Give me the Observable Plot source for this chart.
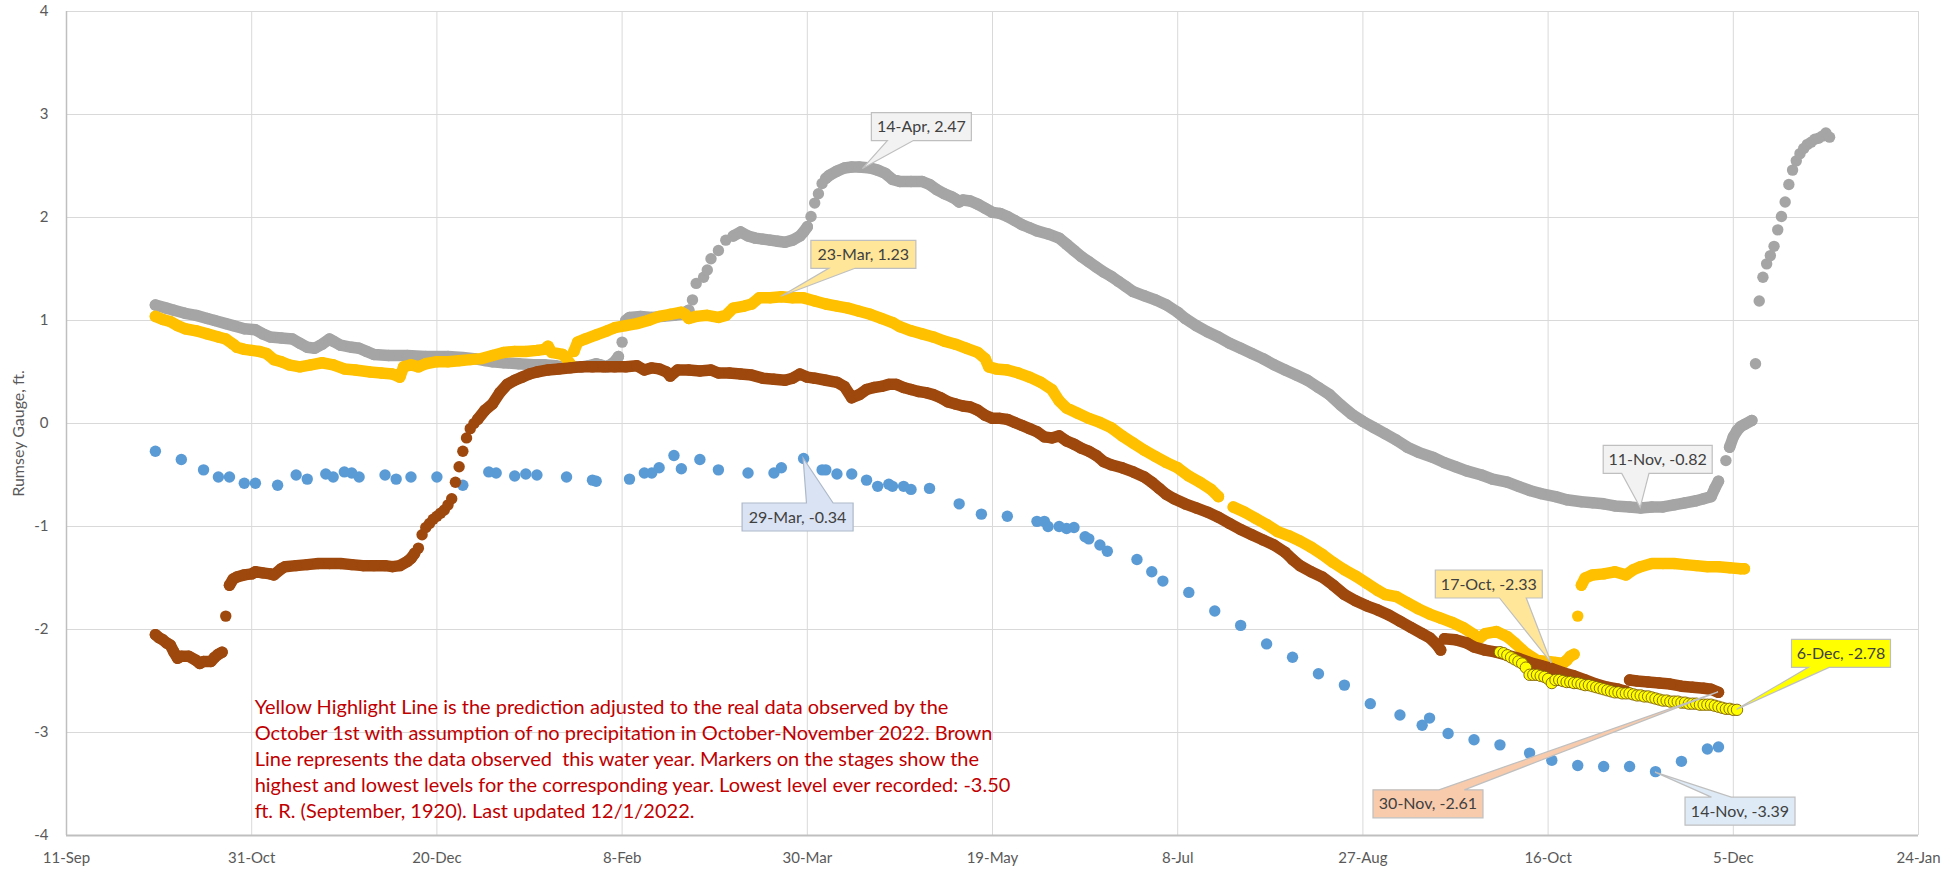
<!DOCTYPE html>
<html>
<head>
<meta charset="utf-8">
<script src="https://cdn.jsdelivr.net/npm/d3@7"></script>
<script src="https://cdn.jsdelivr.net/npm/@observablehq/plot@0.6"></script>
<style>
  html, body { margin: 0; padding: 0; background: #ffffff; }
  #chart { width: 1944px; height: 870px; }
</style>
</head>
<body>
<div id="chart"></div>
<script>
// ---------------- DATA ----------------
// x positions are day offsets from the axis start (11-Sep), y values are Rumsey Gauge ft.
const axisStart = "2021-09-11";
const axisEnd = "2023-01-24";
const xTickDates = ["2021-09-11","2021-10-31","2021-12-20","2022-02-08","2022-03-30","2022-05-19",
                    "2022-07-08","2022-08-27","2022-10-16","2022-12-05","2023-01-24"];
const yTickValues = [-4, -3, -2, -1, 0, 1, 2, 3, 4];
const yAxisTitle = "Rumsey Gauge, ft.";

// Grey year: dense daily trace (null = break) and separated daily readings
const grayTrace = [
  [24,1.15],[27,1.12],[29,1.10],[32,1.07],[35,1.05],[38,1.02],[40,1.00],[43,0.97],[45,0.95],[48,0.92],
  [51,0.91],[53,0.87],[55,0.84],[58,0.83],[61,0.82],[63,0.78],[65,0.74],[67,0.73],[69,0.77],[71,0.82],
  [72,0.80],[74,0.76],[77,0.74],[79,0.73],[81,0.70],[83,0.67],[87,0.66],[92,0.66],[97,0.65],[103,0.65],
  [107,0.64],[110,0.63],[113,0.61],[115,0.60],[118,0.59],[122,0.58],[126,0.57],[129,0.57],[132,0.56],
  [134,0.55],[137,0.55],[139,0.55],[141,0.56],[143,0.58],[144,0.57],[146,0.55],[148,0.60],[149,0.65],
  null,
  [151,1.00],[152,1.03],[155,1.04],[158,1.03],[161,1.04],[164,1.05],[166,1.06],[168,1.10],
  null,
  [180,1.82],[182,1.86],[184,1.82],[186,1.80],[188,1.79],[190,1.78],[192,1.77],[194,1.76],[196,1.78],
  [198,1.82],[199,1.86],[200,1.91],
  null,
  [205,2.38],[206,2.41],[208,2.45],[210,2.48],[212,2.49],[214,2.49],[217,2.48],[219,2.46],[221,2.43],
  [223,2.37],[225,2.35],[228,2.35],[231,2.35],[233,2.32],[235,2.27],[237,2.23],[239,2.20],[240,2.18],
  [241,2.15],[242,2.17],[244,2.16],[246,2.13],[248,2.09],[250,2.05],[252,2.04],[254,2.01],[256,1.97],
  [258,1.93],[260,1.90],[262,1.87],[265,1.84],[268,1.80],[270,1.74],[272,1.68],[274,1.62],[276,1.57],
  [278,1.52],[280,1.47],[282,1.43],[284,1.38],[286,1.33],[288,1.28],[291,1.24],[294,1.20],[297,1.15],
  [300,1.08],[302,1.02],[305,0.95],[308,0.89],[311,0.84],[314,0.78],[317,0.73],[320,0.68],[323,0.63],
  [326,0.57],[329,0.52],[332,0.47],[335,0.42],[338,0.35],[341,0.28],[344,0.18],[347,0.09],[350,0.02],
  [353,-0.04],[356,-0.10],[359,-0.16],[362,-0.23],[365,-0.28],[369,-0.33],[372,-0.38],[375,-0.42],
  [378,-0.46],[382,-0.50],[385,-0.54],[389,-0.57],[392,-0.61],[395,-0.65],[398,-0.68],[402,-0.71],
  [405,-0.74],[409,-0.76],[412,-0.77],[415,-0.78],[418,-0.80],[422,-0.81],[425,-0.82],[428,-0.81],
  [431,-0.81],[434,-0.79],[437,-0.77],[440,-0.75],[442,-0.73],[444,-0.71],[445,-0.63],[446,-0.56],
  null,
  [449,-0.23],[450,-0.13],[451,-0.07],[452,-0.03],[453,-0.01],[455,0.03]
];
const graySpots = [
  [150,0.79],[169,1.20],[170,1.36],[172,1.42],[173,1.49],[174,1.60],[176,1.68],[178,1.78],
  [201,2.01],[202,2.14],[203,2.23],[204,2.33],[448,-0.36],
  [456,0.58],[457,1.19],[458,1.42],[459,1.55],[460,1.63],[461,1.72],[462,1.88],[463,2.01],[464,2.15],
  [465,2.32],[466,2.46],[467,2.55],[468,2.62],[469,2.67],[470,2.71],[471,2.73],[472,2.76],[473,2.77],
  [474,2.79],[475,2.82],[476,2.78]
];

// Gold year
const goldTrace = [
  [24,1.04],[26,1.01],[28,0.99],[30,0.95],[32,0.92],[35,0.90],[38,0.87],[41,0.84],[43,0.82],[45,0.77],
  [46,0.74],[48,0.72],[50,0.71],[52,0.70],[54,0.68],[56,0.62],[58,0.60],[60,0.57],[63,0.55],[66,0.57],
  [69,0.59],[72,0.57],[75,0.53],[78,0.52],[82,0.50],[85,0.49],[88,0.48],[90,0.45],[91,0.55],[93,0.57],
  [95,0.55],[97,0.58],[100,0.60],[103,0.60],[106,0.61],[109,0.62],[112,0.63],[115,0.66],[118,0.69],
  [121,0.70],[124,0.70],[127,0.71],[129,0.72],[130,0.75],[131,0.69],[134,0.67],[135,0.63],[136,0.58],
  null,
  [137,0.70],[138,0.79],[140,0.82],[143,0.86],[146,0.90],[148,0.93],[151,0.95],[154,0.97],[157,1.00],
  [160,1.04],[163,1.06],[166,1.08],[167,1.06],[168,1.02],[170,1.04],[173,1.05],[176,1.03],[178,1.05],
  [180,1.12],[183,1.14],[185,1.16],[187,1.22],[190,1.22],[193,1.23],[196,1.22],[199,1.22],[202,1.19],
  [205,1.16],[208,1.14],[211,1.12],[214,1.09],[217,1.06],[220,1.02],[223,0.98],[225,0.94],[228,0.90],
  [231,0.87],[234,0.84],[237,0.80],[240,0.77],[243,0.73],[246,0.69],[248,0.63],[249,0.55],[251,0.53],
  [254,0.52],[257,0.49],[260,0.45],[263,0.40],[266,0.33],[268,0.22],[270,0.15],[273,0.10],[276,0.05],
  [279,0.01],[282,-0.04],[285,-0.12],[288,-0.19],[291,-0.26],[294,-0.32],[297,-0.38],[300,-0.43],
  [303,-0.51],[306,-0.57],[309,-0.64],[311,-0.71],
  null,
  [315,-0.81],[318,-0.86],[321,-0.92],[324,-0.98],[327,-1.05],[330,-1.09],[333,-1.14],[336,-1.20],
  [339,-1.27],[342,-1.35],[345,-1.42],[348,-1.48],[351,-1.55],[354,-1.62],[356,-1.66],[359,-1.68],
  [362,-1.74],[365,-1.80],[368,-1.85],[371,-1.89],[374,-1.93],[377,-1.98],[380,-2.05],[381,-2.10],
  [383,-2.04],[386,-2.02],[389,-2.07],[391,-2.13],[394,-2.23],[397,-2.30],[400,-2.31],[402,-2.32],
  [404,-2.33],[405,-2.30],[406,-2.26],[407,-2.24],
  null,
  [409,-1.57],[410,-1.50],[412,-1.47],[415,-1.46],[418,-1.44],[421,-1.47],[423,-1.42],[425,-1.39],
  [428,-1.36],[431,-1.36],[434,-1.36],[437,-1.37],[440,-1.38],[443,-1.39],[446,-1.39],[449,-1.40],
  [452,-1.41],[453,-1.41]
];
const goldSpots = [[408,-1.87]];

// Brown (this water year)
const brownTrace = [
  [24,-2.05],[25,-2.08],[26,-2.10],[27,-2.13],[28,-2.15],[29,-2.22],[30,-2.28],[31,-2.26],[33,-2.26],
  [35,-2.30],[36,-2.33],[37,-2.31],[39,-2.31],[40,-2.27],[41,-2.24],[42,-2.22],
  null,
  [44,-1.57],[45,-1.51],[46,-1.49],[48,-1.47],[50,-1.46],[51,-1.44],[53,-1.45],[55,-1.46],[56,-1.47],
  [58,-1.41],[59,-1.39],[62,-1.38],[65,-1.37],[68,-1.36],[71,-1.36],[74,-1.36],[77,-1.37],[80,-1.38],
  [83,-1.38],[86,-1.38],[88,-1.39],[90,-1.38],[92,-1.34],[93,-1.31],[94,-1.26],
  null,
  [111,0.04],[113,0.13],[115,0.19],[117,0.30],[119,0.38],[121,0.42],[123,0.45],[125,0.48],[127,0.50],
  [130,0.52],[133,0.53],[136,0.54],[139,0.55],[142,0.55],[145,0.55],[148,0.55],[151,0.55],[154,0.56],
  [156,0.52],[158,0.54],[160,0.53],[162,0.50],[163,0.46],[165,0.52],[168,0.52],[171,0.51],[174,0.52],
  [176,0.49],[179,0.49],[182,0.48],[185,0.47],[188,0.44],[191,0.43],[194,0.42],[196,0.44],[198,0.48],
  [200,0.45],[202,0.44],[205,0.42],[208,0.40],[210,0.36],[212,0.25],[214,0.28],[216,0.33],[218,0.35],
  [220,0.36],[222,0.38],[224,0.38],[226,0.35],[228,0.33],[230,0.31],[232,0.30],[234,0.28],[236,0.25],
  [238,0.21],[240,0.19],[242,0.17],[244,0.16],[246,0.13],[248,0.08],[250,0.05],[252,0.05],[254,0.04],
  [256,0.01],[258,-0.02],[260,-0.05],[262,-0.08],[264,-0.13],[266,-0.14],[268,-0.12],[270,-0.17],
  [272,-0.20],[274,-0.24],[276,-0.27],[278,-0.31],[280,-0.37],[282,-0.40],[285,-0.43],[288,-0.47],
  [291,-0.52],[293,-0.57],[295,-0.63],[297,-0.69],[299,-0.73],[302,-0.78],[305,-0.82],[308,-0.86],
  [311,-0.91],[314,-0.97],[317,-1.03],[320,-1.08],[323,-1.13],[326,-1.18],[329,-1.25],[331,-1.32],
  [333,-1.38],[336,-1.44],[339,-1.49],[342,-1.57],[345,-1.66],[348,-1.72],[351,-1.77],[354,-1.81],
  [357,-1.86],[360,-1.92],[363,-1.98],[366,-2.04],[368,-2.08],[370,-2.15],[371,-2.20],
  null,
  [372,-2.09],[375,-2.10],[378,-2.13],[380,-2.17],[383,-2.20],[386,-2.22],[389,-2.25],[392,-2.28],
  [395,-2.32],[398,-2.35],[401,-2.38],[404,-2.42],[407,-2.45],[410,-2.49],[413,-2.53],[416,-2.56],
  [419,-2.58],[421,-2.60],
  null,
  [422,-2.49],[424,-2.50],[427,-2.51],[430,-2.52],[433,-2.53],[436,-2.55],[439,-2.56],[442,-2.57],
  [444,-2.58],[446,-2.61]
];
const brownSpots = [
  [43,-1.87],[95,-1.21],[96,-1.08],[97,-1.01],[98,-0.97],[99,-0.93],[100,-0.90],[101,-0.87],
  [102,-0.84],[103,-0.79],[104,-0.73],[105,-0.57],[106,-0.42],[107,-0.27],[108,-0.14],[109,-0.05],
  [110,0.00]
];

// Blue year (sparse readings)
const blueSpots = [
  [24,-0.27],[31,-0.35],[37,-0.45],[41,-0.52],[44,-0.52],[48,-0.58],[51,-0.58],[57,-0.60],[62,-0.50],
  [65,-0.54],[70,-0.49],[72,-0.52],[75,-0.47],[77,-0.48],[79,-0.52],[86,-0.50],[89,-0.54],[93,-0.52],
  [100,-0.52],[107,-0.60],[114,-0.47],[116,-0.48],[121,-0.51],[124,-0.49],[127,-0.50],[135,-0.52],
  [142,-0.55],[143,-0.56],[152,-0.54],[156,-0.48],[158,-0.48],[160,-0.43],[164,-0.31],[166,-0.44],
  [171,-0.35],[176,-0.45],[184,-0.48],[191,-0.48],[193,-0.43],[199,-0.34],[204,-0.45],[205,-0.45],
  [208,-0.49],[212,-0.49],[216,-0.55],[219,-0.61],[222,-0.59],[223,-0.61],[226,-0.61],[228,-0.64],
  [233,-0.63],[241,-0.78],[247,-0.88],[254,-0.90],[262,-0.95],[264,-0.95],[265,-1.00],[268,-1.00],
  [270,-1.02],[272,-1.01],[275,-1.10],[276,-1.12],[279,-1.18],[281,-1.24],[289,-1.32],[293,-1.44],
  [296,-1.53],[303,-1.64],[310,-1.82],[317,-1.96],[324,-2.14],[331,-2.27],[338,-2.43],[345,-2.54],
  [352,-2.72],[360,-2.83],[366,-2.93],[368,-2.86],[373,-3.01],[380,-3.07],[387,-3.12],[395,-3.20],
  [401,-3.27],[408,-3.32],[415,-3.33],[422,-3.33],[429,-3.38],[436,-3.28],[443,-3.16],[446,-3.14]
];

// Yellow highlight prediction, one value per day starting at day 387
const highlightStartDay = 387;
const highlightValues = [
  -2.22,-2.23,-2.25,-2.27,-2.29,-2.31,-2.33,-2.37,-2.44,-2.44,-2.44,-2.45,-2.46,-2.48,-2.52,-2.49,
  -2.49,-2.50,-2.51,-2.51,-2.52,-2.52,-2.53,-2.54,-2.54,-2.55,-2.56,-2.57,-2.58,-2.59,-2.60,-2.61,
  -2.61,-2.62,-2.62,-2.62,-2.63,-2.64,-2.64,-2.65,-2.65,-2.66,-2.67,-2.68,-2.69,-2.69,-2.70,-2.70,
  -2.70,-2.71,-2.71,-2.72,-2.72,-2.72,-2.73,-2.73,-2.73,-2.73,-2.74,-2.75,-2.76,-2.77,-2.77,-2.78,-2.78
];

// Data callouts
const calloutLabels = ["14-Apr, 2.47","23-Mar, 1.23","29-Mar, -0.34","11-Nov, -0.82",
                       "17-Oct, -2.33","6-Dec, -2.78","30-Nov, -2.61","14-Nov, -3.39"];
const calloutDays   = [215, 193, 199, 425, 401, 451, 446, 429];
const calloutValues = [2.47, 1.23, -0.34, -0.82, -2.33, -2.78, -2.61, -3.39];

const noteLines = [
  "Yellow Highlight Line is the prediction adjusted to the real data observed by the",
  "October 1st with assumption of no precipitation in October-November 2022. Brown",
  "Line represents the data observed  this water year. Markers on the stages show the",
  "highest and lowest levels for the corresponding year. Lowest level ever recorded: -3.50",
  "ft. R. (September, 1920). Last updated 12/1/2022."
];

// ---------------- STYLE / LAYOUT ----------------
const colors = { gray: "#a5a5a5", gold: "#ffc000", brown: "#9e480e", blue: "#5b9bd5",
                 highlight: "#ffff00", highlightEdge: "#7f6000", grid: "#d9d9d9", axis: "#bfbfbf",
                 text: "#595959", note: "#c00000", callText: "#404040" };
const calloutStyle = [
  { fill: "#f2f2f2", stroke: "#bfbfbf", dx: 9,    dy: -56, w: 100, edge: "bottom", base: [0.16, 0.42] },
  { fill: "#ffe699", stroke: "#bfbfbf", dx: 30,   dy: -56, w: 105, edge: "bottom", base: [0.17, 0.42] },
  { fill: "#dae3f3", stroke: "#adb9ca", dx: -61,  dy: 45,  w: 111, edge: "top",    base: [0.58, 0.82] },
  { fill: "#f2f2f2", stroke: "#bfbfbf", dx: -37,  dy: -62, w: 109, edge: "bottom", base: [0.17, 0.42] },
  { fill: "#ffe699", stroke: "#bfbfbf", dx: -116, dy: -93, w: 107, edge: "bottom", base: [0.60, 0.85] },
  { fill: "#ffff00", stroke: "#bfbfbf", dx: 55,   dy: -70, w: 99,  edge: "bottom", base: [0.17, 0.38] },
  { fill: "#f8cbad", stroke: "#bfbfbf", dx: -345, dy: 98,  w: 110, edge: "top",    base: [0.60, 0.83] },
  { fill: "#deebf7", stroke: "#bfbfbf", dx: 30,   dy: 25,  w: 110, edge: "top",    base: [0.24, 0.42] }
];
const calloutH = 28;
const FONT = "Lato, 'Open Sans', sans-serif";

// ---------------- BUILD ----------------
const t0 = Date.parse(axisStart + "T00:00:00Z");
const toDate = d => new Date(t0 + d * 864e5);
const rows = arr => arr.map(p => p ? { date: toDate(p[0]), v: p[1] } : { date: null, v: NaN });
const pts = arr => arr.filter(p => p).map(p => ({ date: toDate(p[0]), v: p[1] }));

const grayLine = rows(grayTrace), goldLine = rows(goldTrace), brownLine = rows(brownTrace);
const grayDots = pts(grayTrace).concat(pts(graySpots));
const goldDots = pts(goldTrace).concat(pts(goldSpots));
const brownDots = pts(brownTrace).concat(pts(brownSpots));
const blueDots = pts(blueSpots);
const hiDots = highlightValues.map((v, i) => ({ date: toDate(highlightStartDay + i), v }));

const xTicks = xTickDates.map(s => new Date(s + "T00:00:00Z"));

// fit note font to the reference line width
const ctx = document.createElement("canvas").getContext("2d");
ctx.font = "100px Lato";
const noteFont = 100 * 695 / ctx.measureText(noteLines[0]).width;

const R = 5.7, LW = 11.5;
const lineOpts = (c) => ({ x: "date", y: "v", stroke: c, strokeWidth: LW, strokeLinecap: "round", strokeLinejoin: "round" });
const dotOpts = (c) => ({ x: "date", y: "v", r: R, fill: c, stroke: "none" });

const plot = Plot.plot({
  width: 1944,
  height: 870,
  marginLeft: 66,
  marginRight: 26,
  marginTop: 11,
  marginBottom: 35,
  style: { fontFamily: FONT, fontSize: "15px", color: colors.text, background: "#ffffff", overflow: "visible" },
  x: { type: "utc", domain: [new Date(axisStart + "T00:00:00Z"), new Date(axisEnd + "T00:00:00Z")] },
  y: { domain: [-4, 4] },
  marks: [
    Plot.ruleX(xTicks, { stroke: colors.grid, strokeWidth: 1 }),
    Plot.ruleY(yTickValues, { stroke: colors.grid, strokeWidth: 1 }),
    Plot.ruleX([xTicks[0]], { stroke: colors.axis, strokeWidth: 1.5 }),
    Plot.ruleY([-4], { stroke: colors.axis, strokeWidth: 2 }),
    Plot.axisX({ ticks: xTicks, tickFormat: d3.utcFormat("%-d-%b"), tickSize: 0, tickPadding: 17, fontSize: 15, label: null }),
    Plot.axisY({ ticks: yTickValues, tickFormat: d => String(d), tickSize: 0, tickPadding: 18, fontSize: 15, label: null }),
    Plot.text([yAxisTitle], { text: d => d, frameAnchor: "left", textAnchor: "middle", lineAnchor: "middle",
      dx: -48, dy: 10, rotate: -90, fontSize: 16, fill: colors.text }),
    Plot.text([{ x: toDate(50.8), y: -2.64, t: noteLines.join("\n") }], {
      x: "x", y: "y", text: "t", textAnchor: "start", lineAnchor: "top",
      fontSize: noteFont, lineHeight: 26 / noteFont, fill: colors.note
    }),
    Plot.dot(blueDots, dotOpts(colors.blue)),
    Plot.line(grayLine, lineOpts(colors.gray)),
    Plot.dot(grayDots, dotOpts(colors.gray)),
    Plot.line(goldLine, lineOpts(colors.gold)),
    Plot.dot(goldDots, dotOpts(colors.gold)),
    Plot.line(brownLine, lineOpts(colors.brown)),
    Plot.dot(brownDots, dotOpts(colors.brown)),
    Plot.dot(hiDots, { x: "date", y: "v", r: R, fill: colors.highlight, stroke: colors.highlightEdge, strokeWidth: 0.9 })
  ]
});

// callouts drawn with the plot's own scales
const xs = plot.scale("x"), ys = plot.scale("y");
const g = d3.select(plot).append("g").attr("class", "callouts");
calloutLabels.forEach((label, i) => {
  const s = calloutStyle[i];
  const tx = xs.apply(toDate(calloutDays[i])), ty = ys.apply(calloutValues[i]);
  const x0 = tx + s.dx, y0 = ty + s.dy, x1 = x0 + s.w, y1 = y0 + calloutH;
  const b0 = x0 + s.w * s.base[0], b1 = x0 + s.w * s.base[1];
  const d = s.edge === "bottom"
    ? `M${x0},${y0}H${x1}V${y1}H${b1}L${tx},${ty}L${b0},${y1}H${x0}Z`
    : `M${x0},${y0}H${b0}L${tx},${ty}L${b1},${y0}H${x1}V${y1}H${x0}Z`;
  g.append("path").attr("d", d).attr("fill", s.fill).attr("stroke", s.stroke).attr("stroke-width", 1.2);
  g.append("text").attr("x", (x0 + x1) / 2).attr("y", (y0 + y1) / 2).attr("dy", "0.35em")
    .attr("text-anchor", "middle").attr("font-family", FONT).attr("font-size", 16)
    .attr("fill", colors.callText).text(label);
});

document.getElementById("chart").appendChild(plot);
</script>
</body>
</html>
